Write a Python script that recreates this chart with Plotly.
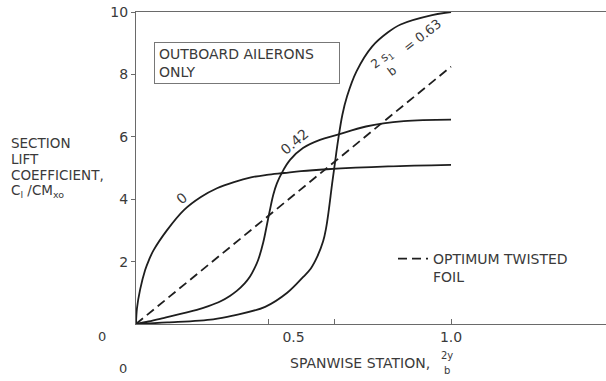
import plotly.graph_objects as go

# ---- data ----
x_s0 = [0, 0.003, 0.013, 0.029, 0.041, 0.055, 0.098, 0.152, 0.206, 0.257, 0.311, 0.365, 0.415, 0.47, 0.524, 0.606, 0.80, 1.0]
y_s0 = [0, 0.5, 1.1, 1.73, 2.05, 2.35, 3.0, 3.65, 4.07, 4.35, 4.55, 4.7, 4.78, 4.84, 4.9, 4.96, 5.05, 5.1]

x_s42 = [0, 0.04, 0.087, 0.193, 0.23, 0.267, 0.298, 0.32, 0.345, 0.362, 0.376, 0.388, 0.404, 0.415, 0.425, 0.436, 0.447, 0.466, 0.489, 0.53, 0.584, 0.638, 0.73, 0.85, 1.0]
y_s42 = [0, 0.08, 0.19, 0.45, 0.57, 0.72, 0.9, 1.06, 1.3, 1.52, 1.78, 2.06, 2.62, 3.15, 3.65, 4.15, 4.5, 4.9, 5.26, 5.64, 5.9, 6.06, 6.33, 6.5, 6.55]

x_s63 = [0, 0.10, 0.245, 0.308, 0.41, 0.48, 0.53, 0.555, 0.575, 0.594, 0.603, 0.612, 0.622, 0.632, 0.641, 0.655, 0.67, 0.70, 0.75, 0.80, 0.84, 0.94, 1.0]
y_s63 = [0, 0.05, 0.15, 0.27, 0.55, 1.0, 1.5, 1.78, 2.15, 2.65, 3.05, 3.65, 4.45, 5.2, 5.85, 6.7, 7.3, 8.1, 8.9, 9.35, 9.6, 9.9, 10.0]

x_opt = [0, 1.0]
y_opt = [0, 8.25]

y_tickvals = [2, 4, 6, 8, 10]
x_tickvals = [0.5, 1.0]
x_ticktext = ["0.5", "1.0"]
x_minor_ticks = [0.42, 0.63, 1.0]

FONT = "DejaVu Sans"
TXT = "#3a3a3a"
LINE = "#1e1e1e"
AX = "#6a6a6a"

W, H = 606, 381
ML, MR, MT, MB = 136, 0, 12, 57
XMAX = 1.492


def px(xp, yp):
    """pixel position -> paper coords (for free text placement)"""
    return (xp - ML) / (W - ML - MR), (H - MB - yp) / (H - MT - MB)


fig = go.Figure()
for xs, ys in [(x_s0, y_s0), (x_s42, y_s42), (x_s63, y_s63)]:
    fig.add_trace(go.Scatter(x=xs, y=ys, mode="lines", showlegend=False,
                             line=dict(color=LINE, width=1.8, shape="spline", smoothing=1.0),
                             hoverinfo="skip"))
fig.add_trace(go.Scatter(x=x_opt, y=y_opt, mode="lines", name="OPTIMUM TWISTED<br>FOIL",
                         showlegend=True, line=dict(color=LINE, width=1.8, dash="9px,5px")))

ann = []
def add(text, x, y, ref="paper", size=14, angle=0, xanchor="center", yanchor="middle", align="center", **kw):
    d = dict(text=text, x=x, y=y, xref=ref if ref == "paper" else "x", yref=ref if ref == "paper" else "y",
             showarrow=False, textangle=angle, xanchor=xanchor, yanchor=yanchor, align=align,
             font=dict(family=FONT, size=size, color=TXT))
    d.update(kw)
    ann.append(d)

# box
bx, by = px(154, 42)
add("OUTBOARD AILERONS<br>ONLY", bx, by, xanchor="left", yanchor="top", align="left",
    bordercolor="#777", borderwidth=1, borderpad=4, width=176, height=32)

# curve labels (data coordinates)
add("0", 0.146, 4.04, ref="data", angle=-40)
add("0.42", 0.502, 5.83, ref="data", angle=-40)
add("2 s<sub>1</sub>", 0.781, 8.46, ref="data", size=12, angle=-36)
add("b", 0.813, 8.12, ref="data", size=12, angle=-36)
add("= 0.63", 0.908, 9.26, ref="data", size=13, angle=-38)

# y-axis title lines
for t, yy in [("SECTION", 143), ("LIFT", 159), ("COEFFICIENT,", 175), ("C<sub>l</sub> /CM<sub>xo</sub>", 191)]:
    ax_, ay_ = px(9, yy)
    add(t, ax_, ay_, xanchor="left", size=13.5)

# x-axis title
tx, ty = px(432, 363)
add("SPANWISE STATION,", tx, ty, xanchor="right", size=14)
fx, fy = px(447, 355)
add("2y", fx, fy, size=10)
fx, fy = px(447, 370)
add("b", fx, fy, size=10)

# origin zeros
ox, oy = px(102, 336)
add("0", ox, oy, size=13)
ox, oy = px(123, 368)
add("0", ox, oy, size=13)

lx, ly = px(393, 243)

fig.update_layout(
    width=W, height=H, margin=dict(l=ML, r=MR, t=MT, b=MB, pad=0),
    paper_bgcolor="white", plot_bgcolor="white",
    font=dict(family=FONT, size=14, color=TXT),
    annotations=ann,
    legend=dict(x=lx, y=ly, xanchor="left", yanchor="top", valign="top",
                bgcolor="rgba(0,0,0,0)", font=dict(family=FONT, size=14, color=TXT),
                itemwidth=30, tracegroupgap=0),
    xaxis=dict(range=[0, XMAX], showgrid=False, zeroline=False, showline=True, mirror=True,
               linecolor=AX, linewidth=1, tickvals=x_tickvals, ticktext=x_ticktext, ticks="",
               tickfont=dict(family=FONT, size=14, color=TXT),
               minor=dict(tickvals=x_minor_ticks, ticks="inside", ticklen=5, tickcolor=AX, showgrid=False)),
    yaxis=dict(range=[0, 10], showgrid=False, zeroline=False, showline=True, linecolor=AX, linewidth=1,
               tickvals=y_tickvals, ticks="outside", ticklen=4, tickcolor=AX,
               tickfont=dict(family=FONT, size=14, color=TXT)),
)

fig.write_html("out.html")
